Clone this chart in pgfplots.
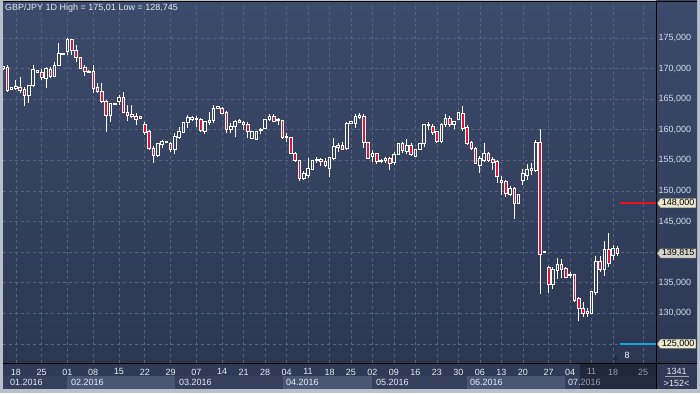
\documentclass[border=0pt]{standalone}
\usepackage{pgfplots}
\pgfplotsset{compat=1.18}
\usepackage{pgfplotstable}
\usepackage{fontspec}
\setmainfont{Liberation Sans}
\usetikzlibrary{shapes.symbols}

\definecolor{framegray}{HTML}{B8C0CB}
\definecolor{bgtop}{HTML}{3C4A6B}
\definecolor{bgbot}{HTML}{2C3853}
\definecolor{gridc}{HTML}{56647F}
\definecolor{candred}{HTML}{E3103A}
\definecolor{bodyfill}{HTML}{35435F}
\definecolor{labc}{HTML}{D2DEF0}
\definecolor{daylab}{HTML}{E6ECF4}
\definecolor{stripbg}{HTML}{2F3B56}
\definecolor{boxlight}{HTML}{4A5774}
\definecolor{boxdark}{HTML}{34405C}
\definecolor{tagcream}{HTML}{EDE9CF}
\definecolor{taggray}{HTML}{D3D3CB}
\definecolor{alertred}{HTML}{E8101C}
\definecolor{alertcyan}{HTML}{18A4E0}
\definecolor{markdark}{HTML}{222B42}

\pgfplotstableread{
j O H L C
0 170.0 170.5 169.8 170.3
1 170.2 170.6 166.2 166.5
2 166.65 167.0 166.5 166.85
3 166.75 168.1 166.5 167.15
4 167.0 168.7 166.0 166.5
5 166.6 167.0 163.9 165.6
6 165.6 167.3 164.4 167.3
7 167.2 170.6 167.0 169.8
8 169.35 169.7 169.3 169.65
9 169.4 170.0 168.1 168.5
10 168.4 170.2 166.9 170.1
11 169.9 170.2 168.4 168.8
12 168.8 171.1 168.7 170.6
13 170.6 174.1 170.4 172.5
14 172.35 172.6 172.3 172.5
15 172.8 175.01 172.2 174.8
16 174.8 174.9 172.2 173.0
17 173.0 173.9 171.0 171.85
18 171.8 171.9 169.9 170.05
19 170.2 170.6 168.85 169.5
20 169.4 169.7 169.3 169.55
21 169.5 170.6 166.0 166.8
22 166.9 167.6 166.0 166.2
23 166.3 167.6 164.4 164.6
24 164.6 164.9 159.7 162.4
25 162.4 164.3 161.3 164.3
26 164.1 164.4 164.0 164.3
27 164.6 165.7 164.05 165.3
28 165.3 166.1 162.7 162.8
29 162.9 164.0 161.5 162.4
30 162.55 164.0 161.9 162.15
31 162.25 162.7 160.8 161.7
32 161.9 162.3 161.85 162.25
33 160.95 161.3 159.15 159.5
34 159.7 160.0 156.7 156.9
35 157.0 157.35 154.6 155.8
36 155.8 157.9 155.6 157.7
37 157.65 158.3 157.0 158.05
38 157.95 158.2 157.9 158.15
39 157.8 158.05 156.4 156.8
40 156.8 159.4 156.05 158.9
41 158.7 160.5 158.5 159.7
42 159.5 161.3 159.4 161.2
43 161.2 162.4 160.25 162.1
44 161.75 162.2 161.5 162.0
45 161.85 162.25 160.4 161.75
46 161.75 161.9 159.6 159.85
47 159.7 161.5 159.3 161.3
48 161.15 162.85 160.7 161.6
49 161.5 164.05 161.05 163.5
50 163.55 163.8 163.5 163.75
51 163.5 163.8 162.5 162.7
52 162.8 163.1 159.4 160.0
53 160.1 161.05 159.45 160.6
54 160.5 161.6 158.9 161.45
55 161.25 161.75 161.05 161.6
56 161.2 161.45 160.0 160.8
57 160.9 161.3 158.6 159.7
58 158.6 159.85 158.55 159.8
59 158.5 159.85 158.45 159.8
60 159.95 160.35 159.25 160.1
61 160.25 161.8 160.2 161.75
62 161.75 162.5 161.45 162.15
63 162.15 162.5 161.2 161.45
64 161.6 162.0 160.8 161.75
65 161.6 161.65 158.5 158.7
66 158.75 159.45 158.05 158.95
67 158.7 158.9 156.0 156.15
68 156.15 156.4 154.8 155.05
69 155.05 155.1 151.6 152.1
70 152.1 153.25 151.8 152.8
71 152.6 155.45 152.15 153.7
72 153.45 155.0 153.4 154.95
73 155.0 155.6 154.6 155.2
74 155.2 155.45 154.0 154.8
75 154.9 155.35 153.95 154.25
76 153.7 155.6 152.35 155.45
77 155.25 158.6 155.05 157.25
78 157.15 157.8 156.4 157.5
79 157.5 158.05 156.7 156.85
80 157.0 161.3 156.7 161.05
81 161.1 161.4 161.0 161.3
82 161.05 162.6 160.25 162.25
83 162.0 162.7 161.7 162.3
84 162.25 162.6 157.0 157.9
85 157.9 158.05 155.2 155.35
86 155.6 156.7 154.8 156.15
87 156.15 156.25 154.4 154.8
88 154.8 155.2 154.55 155.05
89 154.95 155.6 154.6 155.35
90 155.35 155.6 153.45 154.5
91 154.6 156.4 154.25 156.05
92 156.05 157.85 156.0 157.8
93 157.8 158.05 156.25 156.6
94 156.4 158.45 156.05 157.5
95 157.5 157.8 155.7 155.9
96 155.6 156.9 155.55 156.85
97 156.85 157.9 156.7 157.8
98 157.8 160.95 157.15 160.8
99 160.65 161.3 160.0 160.8
100 160.6 160.95 159.15 159.55
101 159.7 159.85 157.9 158.05
102 158.05 161.15 157.9 160.95
103 160.8 162.5 160.4 161.9
104 161.9 162.25 160.5 160.8
105 160.95 161.5 160.1 161.3
106 161.75 162.9 161.65 162.8
107 162.7 163.9 159.85 160.25
108 160.4 160.8 157.5 157.8
109 157.9 158.2 156.7 157.0
110 157.0 157.25 154.5 154.55
111 154.25 155.7 152.9 155.35
112 154.95 157.9 154.8 156.15
113 156.15 156.4 154.8 155.05
114 155.2 155.5 153.45 154.6
115 154.8 155.05 151.35 152.35
116 151.8 152.45 149.35 151.4
117 151.5 151.8 149.05 149.6
118 149.5 150.8 149.2 150.45
119 150.45 150.6 145.4 148.0
120 148.0 149.55 147.95 149.5
121 151.7 153.55 151.0 152.8
122 152.6 154.4 151.8 153.45
123 153.35 154.55 152.6 153.7
124 153.35 158.35 153.15 157.9
125 157.9 160.1 133.1 139.7
126 139.95 140.1 139.9 140.05
127 137.55 137.75 133.3 134.75
128 134.75 137.65 134.05 137.2
129 137.0 139.0 135.55 138.0
130 138.05 138.85 135.75 137.2
131 137.35 137.55 135.75 135.9
132 136.25 136.75 135.75 136.4
133 136.3 136.35 131.9 132.2
134 132.45 132.75 128.745 130.85
135 130.85 131.9 129.45 130.0
136 130.3 130.85 129.45 130.0
137 130.05 133.7 129.95 133.55
138 133.4 139.4 133.0 138.55
139 138.55 139.4 136.8 137.2
140 137.2 141.9 136.1 140.45
141 140.45 143.1 137.65 138.2
142 139.55 141.2 138.75 140.65
143 140.6 141.0 139.4 139.815
}\candles

\pgfplotsset{
  chartgeom/.style={
    at={(3pt,30pt)}, anchor=south west,
    width=653pt, height=361pt, scale only axis,
    xmin=0, xmax=152, ymin=121.89, ymax=180.88,
  }
}

\begin{document}
\begin{tikzpicture}[x=1pt,y=1pt,font=\fontsize{9}{10}\selectfont]
\useasboundingbox (0,0) rectangle (700,393);
% frame and panels
\fill[framegray] (0,0) rectangle (700,393);
\fill[stripbg] (3,4) rectangle (697,30);
\shade[top color=bgtop, bottom color=bgbot] (656,30) rectangle (697,392);
% month boxes
\fill[boxdark]  (3,4)   rectangle (67,17);
\fill[boxlight] (67,4)  rectangle (175,17);
\fill[boxdark]  (175,4) rectangle (283,17);
\fill[boxlight] (283,4) rectangle (372,17);
\fill[boxdark]  (372,4) rectangle (467,17);
\fill[boxlight] (467,4) rectangle (565,17);
\fill[boxdark]  (565,4) rectangle (656,17);
\begin{scope}[text=daylab]
\node[anchor=west, inner sep=0pt] at (10,10.3) {01.2016};
\node[anchor=west, inner sep=0pt] at (71,10.3) {02.2016};
\node[anchor=west, inner sep=0pt] at (179,10.3) {03.2016};
\node[anchor=west, inner sep=0pt] at (286,10.3) {04.2016};
\node[anchor=west, inner sep=0pt] at (376,10.3) {05.2016};
\node[anchor=west, inner sep=0pt] at (470,10.3) {06.2016};
\node[anchor=west, inner sep=0pt] at (568,10.3) {07.2016};
\end{scope}

\begin{axis}[chartgeom,
  axis background/.style={top color=bgtop, bottom color=bgbot},
  axis line style={draw=none},
  major tick length=0pt,
  clip=false,
  xtick={3,9,15,21,27,33,39,45,51,56,61,66,71,76,81,86,91,96,101,106,111,116,121,127,132,137,142,149},
  xticklabels={18,25,01,08,15,22,29,07,14,21,28,04,11,18,25,02,09,16,23,30,06,13,20,27,04,11,18,25},
  ytick={125,130,...,175},
  yticklabels={{},{130,000},{135,000},{},{145,000},{150,000},{155,000},{160,000},{165,000},{170,000},{175,000}},
  yticklabel pos=right,
  xmajorgrids, ymajorgrids,
  grid style={gridc, dash pattern=on 3pt off 3pt, line width=0.6pt},
  xticklabel style={text=daylab, yshift=-2.2pt},
  yticklabel style={text=labc, anchor=west, xshift=0pt, inner sep=2.5pt},
]
% wicks
\addplot[draw=none, mark=none, forget plot,
  error bars/.cd, y dir=plus, y explicit, error mark=none,
  error bar style={draw=white, solid, line width=0.85pt}]
  table[x=j, y=L, y error plus expr=\thisrow{H}-\thisrow{L}] {\candles};
% alert lines
\addplot[alertred, line width=1.6pt, forget plot] coordinates {(143.6,148) (152,148)};
\addplot[alertcyan, line width=1.6pt, forget plot] coordinates {(143.6,125) (152,125)};
% marker under last bar
\addplot[only marks, mark=triangle*, mark size=2.6pt, markdark, forget plot] coordinates {(142.7,122.6)};
\node[text=white, inner sep=0pt] at (axis cs:145.3,123.1) {8};
% price tags
\node[signal, signal to=west, signal pointer angle=110, fill=tagcream, draw=gray!70!black, line width=0.4pt, text=black, inner xsep=1.5pt, inner ysep=1pt, anchor=west] at (axis cs:152.2,148) {148,000};
\node[signal, signal to=west, signal pointer angle=110, fill=taggray, draw=gray!70!black, line width=0.4pt, text=black, inner xsep=1.5pt, inner ysep=1pt, anchor=west] at (axis cs:152.2,139.815) {139,815};
\node[signal, signal to=west, signal pointer angle=110, fill=tagcream, draw=gray!70!black, line width=0.4pt, text=black, inner xsep=1.5pt, inner ysep=1pt, anchor=west] at (axis cs:152.2,125) {125,000};
\end{axis}

% candle bodies
\begin{axis}[chartgeom, hide axis, ybar stacked, bar width=2.6pt]
\addplot[draw=none, fill=none] table[x=j, y expr={min(\thisrow{O},\thisrow{C})}] {\candles};
\addplot[fill=candred, draw=white, line width=0.8pt] table[x=j, y expr={max(\thisrow{O}-\thisrow{C},0)}] {\candles};
\addplot[fill=bodyfill, draw=white, line width=0.8pt] table[x=j, y expr={max(\thisrow{C}-\thisrow{O},0)}] {\candles};
\end{axis}

% future region dimming on the date strip
\fill[black, opacity=0.33] (580,4) rectangle (656,30);
% separators
\draw[black, line width=1pt] (656.5,4) -- (656.5,391.5);
\draw[black, line width=1pt] (3,29.8) -- (697,29.8);
\draw[black, line width=1pt] (3,391.6) -- (697,391.6);
% corner box
\node[text=daylab, inner sep=0pt] at (676.5,21.5) {1341};
\draw[gray!70, line width=0.5pt] (665,16.3) -- (689,16.3);
\node[text=daylab, inner sep=0pt] at (676.5,9.8) {>152<};
% title
\node[anchor=west, text=daylab, inner sep=0pt] at (5,385) {GBP/JPY 1D High = 175,01 Low = 128,745};
\end{tikzpicture}
\end{document}
